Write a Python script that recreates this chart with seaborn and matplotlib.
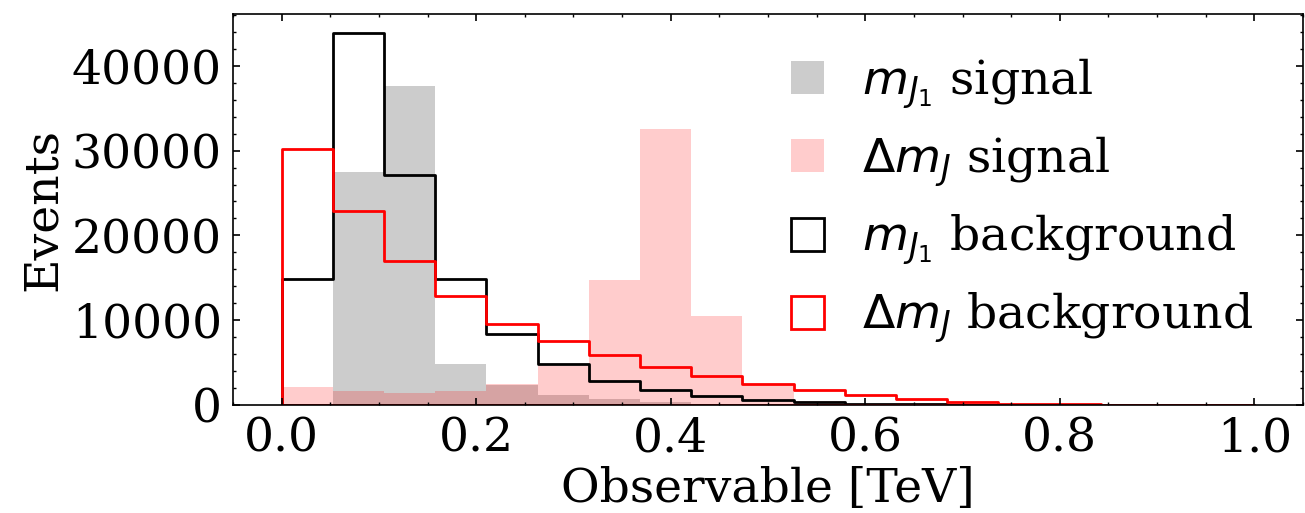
import numpy as np
import pandas as pd
import seaborn as sns
import matplotlib.pyplot as plt
from matplotlib.ticker import AutoMinorLocator, MultipleLocator

# 19 equal bins over [0, 1] TeV
edges = list(np.linspace(0.0, 1.0, 20))
centers = [(a + b) / 2 for a, b in zip(edges[:-1], edges[1:])]

mj1_signal = [200, 27500, 37600, 4900, 2350, 1200, 700, 400, 150, 100,
              50, 20, 10, 0, 0, 0, 0, 0, 0]
dmj_signal = [2200, 1650, 1450, 1650, 2500, 4600, 14700, 32500, 10500, 2450,
              500, 200, 80, 30, 10, 0, 0, 0, 0]
mj1_background = [14900, 43900, 27100, 14900, 8400, 4900, 2900, 1750, 1100, 650,
                  350, 200, 100, 60, 30, 20, 10, 5, 5]
dmj_background = [30200, 22900, 17000, 12900, 9600, 7600, 5900, 4500, 3500, 2500,
                  1800, 1200, 700, 350, 200, 100, 60, 30, 20]

df = pd.DataFrame({"x": centers, "mj1_sig": mj1_signal, "dmj_sig": dmj_signal,
                   "mj1_bkg": mj1_background, "dmj_bkg": dmj_background})

plt.rcParams["font.family"] = "DejaVu Serif"
plt.rcParams["mathtext.fontset"] = "dejavusans"
FS = 34

fig, ax = plt.subplots(figsize=(13.05, 5.13), dpi=100)
fig.subplots_adjust(left=0.1785, right=0.9985, top=0.973, bottom=0.21)

sns.histplot(data=df, x="x", weights="mj1_sig", bins=edges, color="gray", alpha=0.4,
             linewidth=0, label=r"$m_{J_1}$ signal", ax=ax)
sns.histplot(data=df, x="x", weights="dmj_sig", bins=edges, color="red", alpha=0.2,
             linewidth=0, label=r"$\Delta m_J$ signal", ax=ax)
sns.histplot(data=df, x="x", weights="mj1_bkg", bins=edges, element="step",
             fill=True, color="black", facecolor="none", linewidth=2,
             label=r"$m_{J_1}$ background", ax=ax)
sns.histplot(data=df, x="x", weights="dmj_bkg", bins=edges, element="step",
             fill=True, color="red", facecolor="none", linewidth=2,
             label=r"$\Delta m_J$ background", ax=ax)

ax.set_xlim(-0.05, 1.05)
ax.set_ylim(0, 46100)
ax.set_xlabel("Observable [TeV]", fontsize=FS)
ax.set_ylabel("Events", fontsize=FS)
ax.yaxis.set_major_locator(MultipleLocator(10000))
ax.xaxis.set_minor_locator(AutoMinorLocator())
ax.yaxis.set_minor_locator(AutoMinorLocator())
ax.tick_params(which="both", direction="in", top=True, right=True, labelsize=FS)
ax.tick_params(which="major", length=5, width=1.2, pad=8)
ax.tick_params(which="minor", length=2.5, width=1)
for s in ax.spines.values():
    s.set_linewidth(1.2)

handles, labels = ax.get_legend_handles_labels()
order = [labels.index(l) for l in [r"$m_{J_1}$ signal", r"$\Delta m_J$ signal",
                                    r"$m_{J_1}$ background", r"$\Delta m_J$ background"]]
ax.legend([handles[i] for i in order], [labels[i] for i in order],
          loc="upper right", frameon=False, fontsize=FS, handlelength=0.7,
          handleheight=0.7, handletextpad=0.8, labelspacing=0.5,
          bbox_to_anchor=(0.993, 1.0))

plt.savefig("out.png", dpi=100)
